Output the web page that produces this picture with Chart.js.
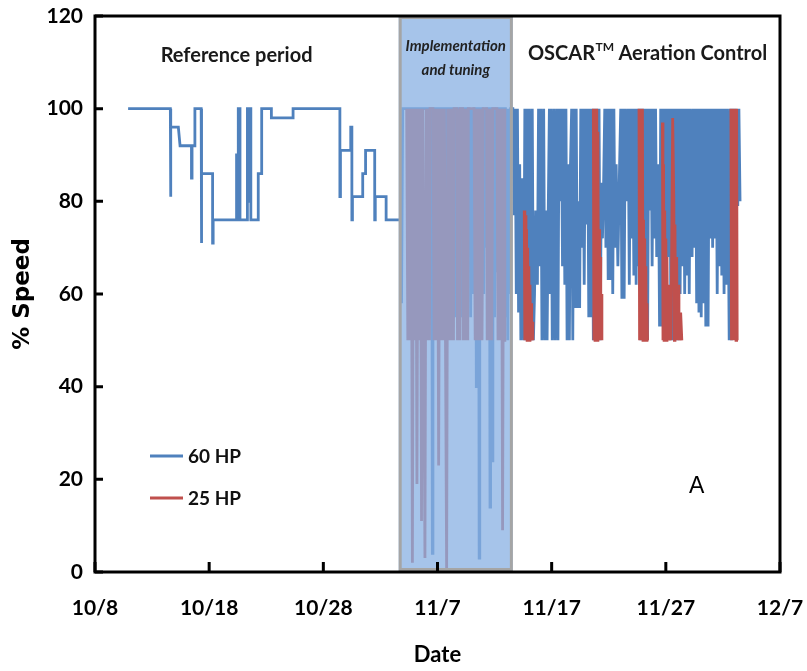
<!DOCTYPE html>
<html>
<head>
<meta charset="utf-8">
<script src="https://cdn.jsdelivr.net/npm/chart.js@4.4.1/dist/chart.umd.min.js"></script>
<style>
	html, body { margin: 0; padding: 0; background: #fff; }
	#grafico { display: block; }
</style>
</head>
<body>
<canvas id="grafico" width="807" height="671"></canvas>
<script>
// x values are days counted from 10/8
var tickLabels = ['10/8', '10/18', '10/28', '11/7', '11/17', '11/27', '12/7'];
var seriesNames = ['60 HP', '25 HP'];
var tuningPeriod = [26.6, 36.6];

var hp60Reference = [
	[2.9,100],[6.6,100],[6.6,81],[6.65,81],[6.65,96],[7.3,96],[7.45,92],[8.45,92],[8.45,85],[8.5,85],[8.5,92],
	[8.75,92],[8.75,100],[9.3,100],[9.3,71],[9.35,71],[9.35,86],[10.3,86],[10.3,71],[10.35,71],[10.35,76],
	[12.4,76],[12.4,90],[12.45,90],[12.45,76],[12.55,76],[12.55,100],[12.7,100],[12.7,76],[13.35,76],[13.35,100],
	[13.45,100],[13.45,80],[13.55,80],[13.55,100],[13.65,100],[13.65,76],[14.3,76],[14.3,86],[14.6,86],[14.6,100],
	[15.45,100],[15.45,98],[17.35,98],[17.35,100],[21.45,100],[21.45,81],[21.5,81],[21.5,91],[22.4,91],[22.4,96],
	[22.5,96],[22.5,76],[22.55,76],[22.55,81],[23.45,81],[23.45,86],[23.7,86],[23.7,91],[24.5,91],[24.5,76],
	[24.55,76],[24.55,81],[25.5,81],[25.5,76],[26.6,76]
];

var hp60Tuning = [
	[26.8,76],[26.85,58],[26.95,100],[29.4,100],[29.45,55],[29.5,100],[29.55,4],[29.6,100],[30.7,100],[30.75,60],
	[30.85,100],[31.45,100],[31.5,55],[31.6,100],[31.65,60],[31.7,100],[32.05,100],[32.1,55],[32.2,100],[32.75,100],
	[32.8,75],[32.85,100],[32.9,55],[33.0,100],[33.1,60],[33.2,100],[33.35,100],[33.4,40],[33.45,100],[33.6,100],
	[33.65,3],[33.7,100],[34.0,100],[34.05,60],[34.15,100],[34.2,70],[34.3,100],[34.55,100],[34.6,14],[34.65,100],
	[34.75,100],[34.8,24],[34.85,100],[34.95,100],[35.0,55],[35.1,100],[35.15,65],[35.2,100],[35.95,100],[36.0,55],
	[36.1,100],[36.15,50],[36.25,100],[36.3,60],[36.4,100]
];

var hp60Oscar = [
	[36.6,100],[36.7,77],[36.8,100],[36.9,60],[37.0,100],[37.1,56],[37.2,88],[37.3,50],[37.45,85],[37.55,50],
	[37.65,100],[37.75,50],[37.85,100],[37.95,50],[38.05,100],[38.15,50],[38.3,100],[38.4,50],[38.5,60],[38.6,78],
	[38.75,62],[38.85,100],[38.95,66],[39.05,100],[39.15,50],[39.3,100],[39.4,50],[39.5,78],[39.6,50],[39.7,78],
	[39.8,100],[39.85,60],[39.95,100],[40.05,50],[40.2,100],[40.3,50],[40.45,100],[40.55,50],[40.65,100],[40.75,80],
	[40.85,100],[40.95,66],[41.05,100],[41.15,62],[41.25,100],[41.35,50],[41.45,88],[41.55,50],[41.65,88],[41.75,100],
	[41.85,50],[41.95,100],[42.05,57],[42.15,100],[42.25,57],[42.35,80],[42.45,57],[42.55,100],[42.65,70],[42.75,100],
	[42.85,62],[42.95,100],[43.05,75],[43.15,100],[43.25,55],[43.35,100],[43.45,55],[43.55,100],[43.65,50],[43.75,100],
	[43.85,50],[43.95,100],[44.05,50],[44.15,100],[44.25,50],[44.35,84],[44.45,72],[44.55,84],[44.65,100],[44.75,70],
	[44.85,100],[44.95,63],[45.05,100],[45.15,63],[45.25,100],[45.35,60],[45.45,100],[45.55,70],[45.65,88],[45.8,66],
	[45.95,88],[46.05,100],[46.15,59],[46.25,100],[46.35,59],[46.45,100],[46.6,80],[46.7,100],[46.8,62],[46.9,100],
	[47.0,72],[47.1,100],[47.2,64],[47.3,100],[47.4,62],[47.5,100],[47.6,66],[47.7,100],[47.8,50],[47.9,100],
	[48.0,50],[48.1,100],[48.2,50],[48.3,100],[48.4,50],[48.5,100],[48.6,78],[48.7,100],[48.8,66],[48.9,100],
	[49.0,72],[49.1,100],[49.2,68],[49.35,88],[49.45,53],[49.55,100],[49.65,53],[49.75,100],[49.85,55],[49.95,100],
	[50.05,60],[50.15,100],[50.25,68],[50.35,100],[50.45,50],[50.55,100],[50.65,50],[50.75,100],[50.85,50],[50.95,100],
	[51.05,50],[51.15,100],[51.25,60],[51.35,100],[51.45,66],[51.55,100],[51.65,60],[51.75,100],[51.85,64],[51.95,100],
	[52.05,60],[52.15,100],[52.3,68],[52.4,100],[52.5,70],[52.6,100],[52.7,58],[52.8,100],[52.9,56],[53.0,100],
	[53.1,55],[53.2,100],[53.3,58],[53.4,100],[53.5,53],[53.6,100],[53.7,53],[53.8,100],[53.9,72],[54.0,100],
	[54.1,70],[54.2,100],[54.3,72],[54.4,100],[54.5,60],[54.6,100],[54.7,66],[54.8,100],[54.9,64],[55.0,100],
	[55.1,60],[55.2,100],[55.3,62],[55.4,100],[55.55,50],[55.65,100],[55.75,50],[55.85,100],[56.0,80],[56.1,100],
	[56.3,79],[56.4,100],[56.5,80]
];

var hp25Tuning = [
	[27.3,100],[27.4,50],[27.5,100],[27.6,50],[27.7,100],[27.8,2],[27.9,100],[28.0,50],[28.1,100],[28.2,19],
	[28.3,100],[28.4,50],[28.5,100],[28.6,11],[28.7,100],[28.8,50],[28.9,3],[29.0,100],[29.1,50],[29.2,100],
	[29.3,50],[29.35,100],[29.6,100],[29.7,50],[29.8,100],[29.9,50],[30.0,100],[30.1,23],[30.2,100],[30.3,50],
	[30.4,100],[30.5,50],[30.6,100],[30.7,50],[30.8,0],[30.9,100],[31.0,50],[31.1,100],[31.2,50],[31.3,100],
	[31.4,50],[31.45,100],[31.7,100],[31.75,50],[31.85,100],[31.95,50],[32.0,100],[32.2,100],[32.25,50],[32.35,100],
	[32.45,50],[32.55,100],[32.65,50],[32.7,100],[33.2,100],[33.3,50],[33.4,100],[33.5,50],[33.6,100],[33.7,50],
	[33.8,100],[33.9,50],[34.0,100],[34.3,100],[34.35,50],[34.45,100],[34.55,50],[34.65,100],[34.75,50],[34.85,100],
	[35.2,100],[35.3,50],[35.4,100],[35.5,50],[35.6,100],[35.7,9],[35.8,100],[35.85,50],[35.9,100]
];

var hp25Oscar = [
	[36.0,null],
	[37.6,78],[37.65,50],[37.7,77],[37.75,50],[37.8,74],[37.85,50],[37.9,70],[37.95,50],[38.0,66],[38.05,50],
	[38.1,62],[38.15,50],[38.2,58],[38.25,50],[38.3,54],[38.35,50],[38.4,null],
	[43.65,100],[43.7,50],[43.75,100],[43.8,50],[43.85,100],[43.9,50],[43.95,100],[44.0,50],[44.05,95],[44.1,50],
	[44.15,74],[44.2,50],[44.25,68],[44.3,50],[44.35,60],[44.4,50],[44.45,null],
	[47.65,100],[47.7,50],[47.75,100],[47.8,50],[47.85,100],[47.9,50],[47.95,100],[48.0,50],[48.05,76],[48.1,50],
	[48.15,72],[48.2,50],[48.25,66],[48.3,50],[48.35,58],[48.4,50],[48.45,null],
	[49.7,97],[49.75,50],[49.8,88],[49.85,50],[49.9,78],[49.95,50],[50.0,72],[50.05,50],[50.1,68],[50.15,50],
	[50.25,62],[50.3,50],[50.4,55],[50.45,50],[50.6,98],[50.7,80],[50.75,50],[50.8,75],[50.85,50],[50.95,68],
	[51.0,50],[51.1,62],[51.15,50],[51.3,56],[51.4,50],[51.45,null],
	[55.7,100],[55.75,50],[55.8,100],[55.85,50],[55.9,100],[55.95,50],[56.0,100],[56.05,50],[56.1,100],[56.15,50],
	[56.2,100],[56.25,50]
];

var FONTE = "Lato, 'Liberation Sans', sans-serif";

function pontos(lista) {
	return lista.map(function(p) { return { x: p[0], y: p[1] }; });
}

// "OSCAR" with a raised TM, then the rest, centred on cx
function textoOscar(ctx, cx, cy) {
	var grande = 'bold 20px ' + FONTE, pequeno = 'bold 12px ' + FONTE;
	ctx.font = grande;
	var w1 = ctx.measureText('OSCAR').width, w3 = ctx.measureText(' Aeration Control').width;
	ctx.font = pequeno;
	var w2 = ctx.measureText('TM').width;
	var x = cx - (w1 + w2 + w3) / 2;
	ctx.textAlign = 'left';
	ctx.font = grande;
	ctx.fillText('OSCAR', x, cy);
	ctx.fillText(' Aeration Control', x + w1 + w2, cy);
	ctx.font = pequeno;
	ctx.fillText('TM', x + w1 + 0.5, cy - 6);
}

// box over the tuning period, text labels, legend, frame and inward ticks
var decoracao = {
	id: 'decoracao',
	afterDatasetsDraw: function(chart) {
		var ctx = chart.ctx, a = chart.chartArea, sx = chart.scales.x, sy = chart.scales.y;
		var x0 = sx.getPixelForValue(tuningPeriod[0]);
		var x1 = sx.getPixelForValue(tuningPeriod[1]);
		ctx.save();
		ctx.fillStyle = 'rgba(136,176,227,0.75)';
		ctx.fillRect(x0, a.top, x1 - x0, a.bottom - a.top);
		ctx.strokeStyle = '#a5a5a5';
		ctx.lineWidth = 3;
		ctx.strokeRect(x0 + 1.5, a.top + 1.5, x1 - x0 - 3, a.bottom - a.top - 4);

		ctx.fillStyle = '#222';
		ctx.textAlign = 'center';
		ctx.textBaseline = 'middle';
		ctx.font = 'italic bold 15px ' + FONTE;
		ctx.fillText('Implementation', (x0 + x1) / 2, a.top + 30);
		ctx.fillText('and tuning', (x0 + x1) / 2, a.top + 54);

		ctx.fillStyle = '#1a1a1a';
		ctx.font = 'bold 20px ' + FONTE;
		ctx.fillText('Reference period', sx.getPixelForValue(12.4), sy.getPixelForValue(111.5));
		textoOscar(ctx, sx.getPixelForValue(48.4), sy.getPixelForValue(112));

		ctx.fillStyle = '#000';
		ctx.textAlign = 'center';
		ctx.font = '23px "Liberation Sans", sans-serif';
		ctx.fillText('A', sx.getPixelForValue(52.7), sy.getPixelForValue(18.5));

		// legend
		ctx.textAlign = 'left';
		ctx.font = 'bold 19px ' + FONTE;
		chart.data.datasets.forEach(function(ds, i) {
			var ly = a.top + 440 + i * 42;
			ctx.strokeStyle = ds.borderColor;
			ctx.lineWidth = 3;
			ctx.beginPath();
			ctx.moveTo(a.left + 55, ly);
			ctx.lineTo(a.left + 88, ly);
			ctx.stroke();
			ctx.fillStyle = '#111';
			ctx.fillText(ds.label, a.left + 93, ly + 1);
		});
		ctx.restore();
	},
	afterDraw: function(chart) {
		var ctx = chart.ctx, a = chart.chartArea, sx = chart.scales.x, sy = chart.scales.y;
		ctx.save();
		ctx.strokeStyle = '#000';
		ctx.lineWidth = 3;
		ctx.strokeRect(a.left, a.top, a.right - a.left, a.bottom - a.top);
		ctx.beginPath();
		sy.ticks.forEach(function(t) {
			var py = sy.getPixelForValue(t.value);
			ctx.moveTo(a.left, py);
			ctx.lineTo(a.left + 8, py);
		});
		sx.ticks.forEach(function(t) {
			var px = sx.getPixelForValue(t.value);
			ctx.moveTo(px, a.bottom);
			ctx.lineTo(px, a.bottom - 10);
		});
		ctx.stroke();
		ctx.restore();
	}
};

var grafico = new Chart(document.getElementById('grafico').getContext('2d'), {
	type: 'line',
	data: {
		datasets: [{
			label: seriesNames[0],
			data: pontos(hp60Reference.concat(hp60Tuning, hp60Oscar)),
			borderColor: '#4f81bd',
			borderWidth: 2.8,
			pointRadius: 0,
			tension: 0,
			order: 1
		}, {
			label: seriesNames[1],
			data: pontos(hp25Tuning.concat(hp25Oscar)),
			borderColor: '#c0504d',
			borderWidth: 2.8,
			pointRadius: 0,
			tension: 0,
			spanGaps: false,
			order: 0
		}]
	},
	options: {
		responsive: false,
		animation: false,
		layout: { padding: { top: 16, right: 27, left: 0, bottom: 0 } },
		plugins: { legend: { display: false }, tooltip: { enabled: false } },
		scales: {
			x: {
				type: 'linear',
				min: 0,
				max: 60,
				border: { display: false },
				grid: { display: false, drawTicks: false },
				ticks: {
					stepSize: 10,
					padding: 24,
					maxRotation: 0,
					autoSkip: false,
					color: '#000',
					font: { family: FONTE, size: 21, weight: 'bold' },
					callback: function(v) { return tickLabels[v / 10]; }
				},
				title: {
					display: true,
					text: 'Date',
					color: '#000',
					font: { family: FONTE, size: 22, weight: 'bold' },
					padding: { top: 0, bottom: 3 }
				},
				afterFit: function(s) {
					s.height = 99;
					s.paddingLeft = 0;
					s.paddingRight = 0;
				}
			},
			y: {
				min: 0,
				max: 120,
				border: { display: false },
				grid: { display: false, drawTicks: false },
				ticks: {
					stepSize: 20,
					padding: 12,
					color: '#000',
					font: { family: FONTE, size: 21, weight: 'bold' }
				},
				title: {
					display: true,
					text: '% Speed',
					color: '#000',
					font: { family: "'DejaVu Sans', sans-serif", size: 23, weight: 'bold' },
					padding: { top: 9, bottom: 0 }
				},
				afterFit: function(s) {
					s.width = 95;
					s.paddingTop = 0;
					s.paddingBottom = 0;
				}
			}
		}
	},
	plugins: [decoracao]
});
</script>
</body>
</html>
